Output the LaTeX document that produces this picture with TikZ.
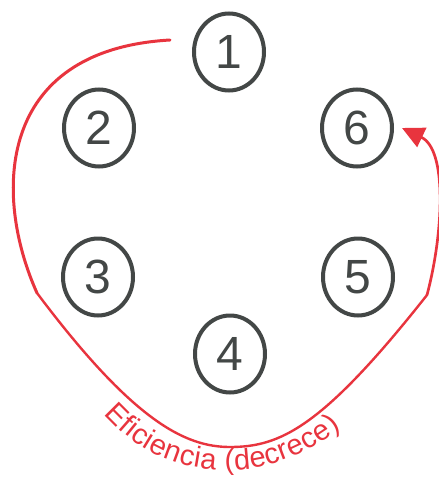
\documentclass[tikz,border=0pt]{standalone}
\usepackage{fontspec}
\setmainfont{Liberation Sans}
\usetikzlibrary{shapes.geometric,arrows.meta,decorations.text}
\definecolor{ringgray}{HTML}{434746}
\definecolor{flowred}{HTML}{E8343E}
\newcommand\arcfont{\fontsize{29}{34}\selectfont\color{flowred}}
\tikzset{
  ring/.style={ellipse, draw=ringgray, line width=4pt, minimum width=70pt,
    minimum height=77pt, inner sep=0pt, text=ringgray,
    font=\fontsize{48}{48}\selectfont},
  flow/.style={draw=flowred, line cap=round, line join=round},
}
\begin{document}
\begin{tikzpicture}[x=1pt,y=-1pt]
\useasboundingbox (0,0) rectangle (439,477);
% the six numbered rings
\node[ring] (n1) at (229,52) {1};
\node[ring] (n2) at (99,128) {2};
\node[ring] (n6) at (357,128) {6};
\node[ring] (n3) at (98,277) {3};
\node[ring] (n5) at (358,277) {5};
\node[ring] (n4) at (230,354) {4};
% waypoints of the red loop
\coordinate (a0) at (170,40);
\coordinate (a1) at (37,293);
\coordinate (b1) at (230,447);
\coordinate (c0) at (427,295);
\coordinate (c1) at (402,128);
% baseline of the label under the loop
\coordinate (t0) at (104,414);
\coordinate (t1) at (230,470);
\coordinate (t2) at (341,428);
% red loop: down the left side, under the rings, back up to ring 6
\draw[flow, line width=3pt] (a0) .. controls (-4,50) and (-7,195) .. (a1);
\draw[flow, line width=2.4pt] (a1) .. controls (133,421) and (185,447) .. (b1)
  .. controls (280,447) and (322,428) .. (c0);
\draw[flow, line width=2.7pt, -{Triangle[length=22pt,width=21pt]}]
  (c0) .. controls (443,235) and (448,150) .. (c1);
% label set along the bottom of the loop
\path[decorate, decoration={text along path,
    text={|\arcfont|Eficiencia (decrece)},
    text align=fit to path}]
  (t0) .. controls (148,462) and (190,470) .. (t1)
  .. controls (272,470) and (310,452) .. (t2);
\end{tikzpicture}
\end{document}
